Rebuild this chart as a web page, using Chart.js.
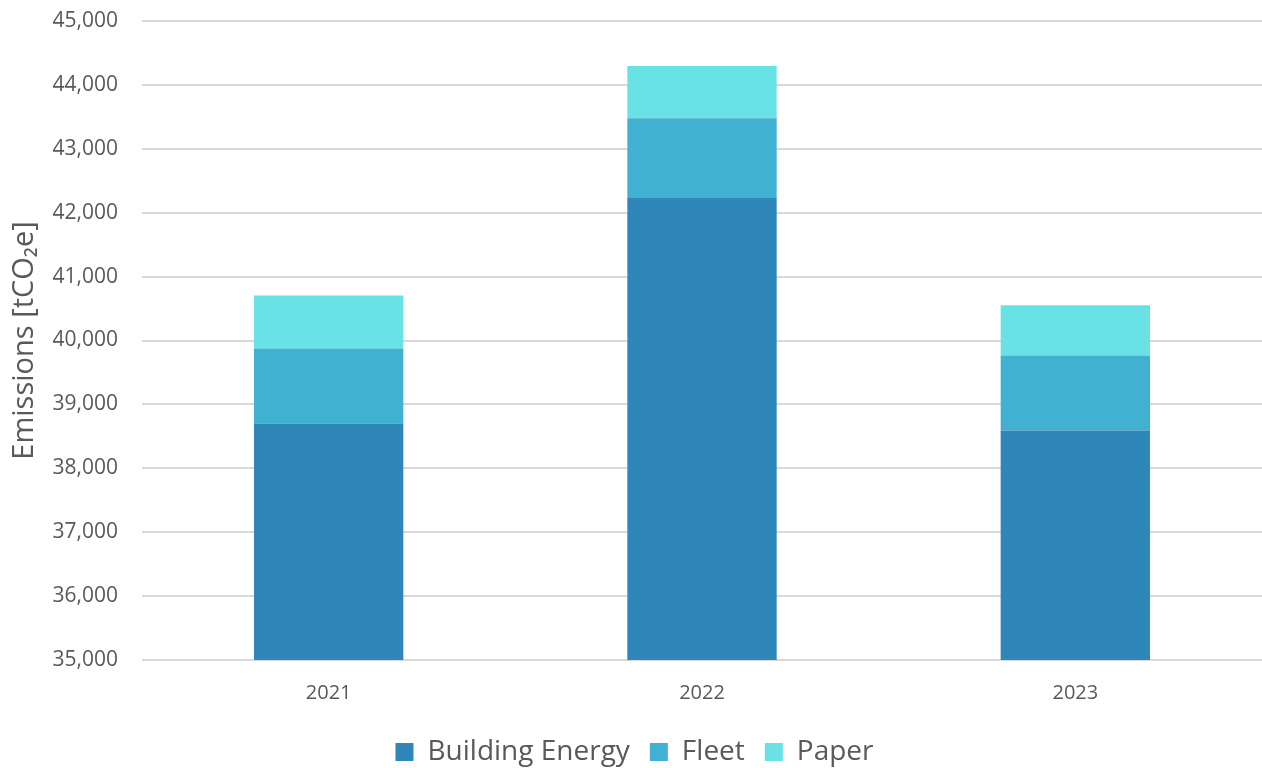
<!DOCTYPE html>
<html>
<head>
<meta charset="utf-8">
<script src="https://cdn.jsdelivr.net/npm/chart.js@4"></script>
<style>
  html, body { margin: 0; padding: 0; background: #fff; }
  #wrap { width: 1262px; height: 768px; }
</style>
</head>
<body>
<div id="wrap"><canvas id="graph"></canvas></div>
<script>
const years = ["2021", "2022", "2023"];
const buildingEnergy = [38700, 42230, 38590];
const fleet = [1175, 1250, 1175];
const paper = [830, 815, 785];

const ctx = document.getElementById("graph").getContext("2d");
const grey = "#595959";
const fontName = "Open Sans";

let myChart = new Chart(ctx, {
    type: "bar",
    data: {
        labels: years,
        datasets: [
            { label: "Building Energy", data: buildingEnergy, backgroundColor: "#2e86b9" },
            { label: "Fleet", data: fleet, backgroundColor: "#40b1d0" },
            { label: "Paper", data: paper, backgroundColor: "#69e2e6" }
        ]
    },
    options: {
        responsive: true,
        maintainAspectRatio: false,
        animation: false,
        layout: { padding: { left: 7, right: 0, top: 0, bottom: -8 } },
        datasets: { bar: { barPercentage: 0.4, categoryPercentage: 1 } },
        plugins: {
            legend: {
                position: "bottom",
                labels: {
                    color: grey,
                    font: { family: fontName, size: 28 },
                    boxWidth: 18,
                    boxHeight: 18,
                    padding: 20
                }
            },
            tooltip: { enabled: false }
        },
        scales: {
            x: {
                stacked: true,
                grid: { display: false },
                border: { display: false },
                ticks: { color: grey, font: { family: fontName, size: 20 }, padding: 13 }
            },
            y: {
                stacked: true,
                min: 35000,
                max: 45000,
                border: { display: false },
                grid: { color: "#d9d9d9", lineWidth: 2, drawTicks: false },
                ticks: {
                    stepSize: 1000,
                    color: grey,
                    font: { family: fontName, size: 21 },
                    padding: 24,
                    callback: v => v.toLocaleString("en-US")
                },
                title: {
                    display: true,
                    text: "Emissions [tCO₂e]",
                    color: grey,
                    font: { family: fontName, size: 29 },
                    padding: 0
                },
                // top gridline near the edge, plot starting at x=142
                afterFit: s => { s.paddingTop = 21; s.width = 135; }
            }
        }
    }
});
</script>
</body>
</html>
